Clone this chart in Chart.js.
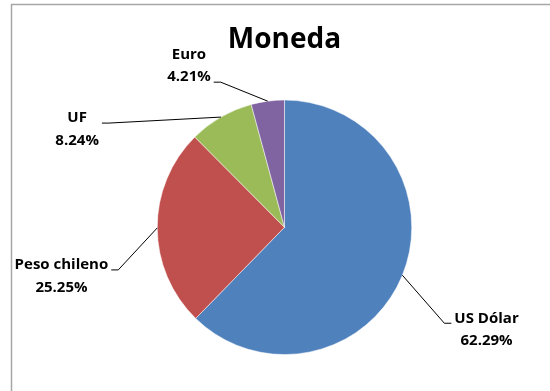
<!DOCTYPE html>
<html>
<head>
<meta charset="utf-8">
<script src="https://cdn.jsdelivr.net/npm/chart.js@4.4.1/dist/chart.umd.min.js"></script>
<style>
  html, body { margin: 0; padding: 0; background: #fff; }
  #wrap { width: 550px; height: 391px; position: relative; }
</style>
</head>
<body>
<div id="wrap"><canvas id="monedaChart"></canvas></div>
<script>
const categories = ['US Dólar', 'Peso chileno', 'UF', 'Euro'];
const shares = [62.29, 25.25, 8.24, 4.21];

const sliceColors = ['#4F81BD', '#C0504D', '#9BBB59', '#8064A2'];
// label placement from the slice edge point: [bend dx, bend dy, text side, row on the bend]
const labelOffsets = [
  [42, 48, 'right', 0],
  [-39, 42, 'left', 0],
  [-112, 6, 'left', 0],
  [-47, -19, 'left', 1]
];

const labelFont = 'bold 15px "Open Sans", "Liberation Sans", sans-serif';

const pieLabels = {
  id: 'pieLabels',
  beforeDraw(chart) {
    const c = chart.ctx;
    c.save();
    c.strokeStyle = '#a6a6a6';
    c.lineWidth = 1.5;
    c.strokeRect(11.5, 4.5, 700, 600);
    c.restore();
  },
  afterDatasetsDraw(chart) {
    const c = chart.ctx;
    const arcs = chart.getDatasetMeta(0).data;
    c.save();
    c.font = labelFont;
    c.fillStyle = '#000';
    c.strokeStyle = '#000';
    c.lineWidth = 1;
    arcs.forEach((arc, i) => {
      const mid = (arc.startAngle + arc.endAngle) / 2;
      const x0 = arc.x + Math.cos(mid) * arc.outerRadius;
      const y0 = arc.y + Math.sin(mid) * arc.outerRadius;
      const [dx, dy, side, row] = labelOffsets[i];
      const x1 = x0 + dx, y1 = y0 + dy;
      const dir = side === 'right' ? 1 : -1;
      const x2 = x1 + dir * 7;
      c.beginPath();
      c.moveTo(x0, y0);
      c.lineTo(x1, y1);
      c.lineTo(x2, y1);
      c.stroke();
      const name = categories[i];
      const pct = shares[i].toFixed(2) + '%';
      const w = Math.max(c.measureText(name).width, c.measureText(pct).width);
      const cx = side === 'right' ? x2 + 3 + w / 2 : x2 - 3 - w / 2;
      const nameY = y1 - 5 - row * 22.5;
      c.textAlign = 'center';
      c.textBaseline = 'middle';
      c.fillText(name, cx, nameY);
      c.fillText(pct, cx, nameY + 22.5);
    });
    c.restore();
  }
};

new Chart(document.getElementById('monedaChart'), {
  type: 'pie',
  data: {
    labels: categories,
    datasets: [{
      data: shares,
      backgroundColor: sliceColors,
      borderColor: '#ffffff',
      borderWidth: 0.5
    }]
  },
  options: {
    responsive: true,
    maintainAspectRatio: false,
    animation: false,
    layout: { padding: { top: 13, left: 157, right: 138, bottom: 36 } },
    plugins: {
      legend: { display: false },
      tooltip: { enabled: false },
      title: {
        display: true,
        text: 'Moneda',
        color: '#000',
        font: { family: '"Open Sans", "Liberation Sans", sans-serif', size: 28, weight: 'bold' },
        padding: { top: 10, bottom: 43 }
      }
    }
  },
  plugins: [pieLabels]
});
</script>
</body>
</html>
